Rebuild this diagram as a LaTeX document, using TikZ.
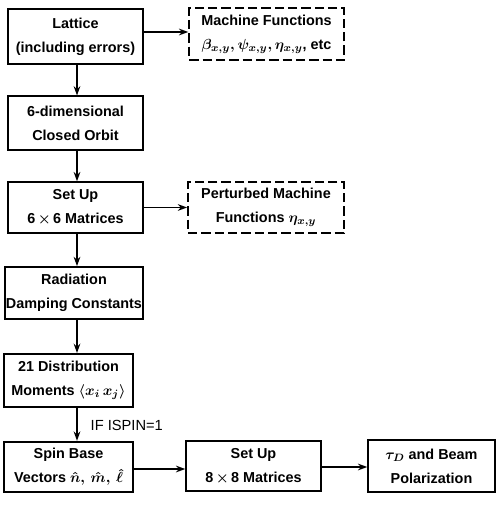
\documentclass[tikz,border=0pt]{standalone}
\usepackage{amsmath}
\usepackage{fontspec}
\setmainfont{Liberation Sans}
\usetikzlibrary{arrows.meta}

\begin{document}
\begin{tikzpicture}[x=0.75pt,y=-0.75pt,
  box/.style={draw,line width=1.3pt,align=center,inner sep=1pt,font=\bfseries\boldmath\fontsize{10.8}{18}\selectfont},
  dbox/.style={box,dash pattern=on 7pt off 3pt},
  link/.style={line width=1.1pt,-{Stealth[length=7pt,width=5pt]}}]
  \useasboundingbox (0,0) rectangle (500,510);
  % left column
  \node[box,minimum width=101pt,minimum height=41pt] (lat) at (75.5,36.5) {Lattice\\(including errors)};
  \node[box,minimum width=101pt,minimum height=40pt] (orb) at (75.5,123) {6-dimensional\\Closed Orbit};
  \node[box,minimum width=101pt,minimum height=38pt] (su6) at (75.5,207.5) {Set Up\\6\,$\times$\,6 Matrices};
  \node[box,minimum width=103pt,minimum height=39pt] (rad) at (74,293) {Radiation\\Damping Constants};
  \node[box,minimum width=97pt,minimum height=40pt] (dist) at (68.5,380.5) {21 Distribution\\Moments $\langle x_i\,x_j\rangle$};
  \node[box,minimum width=97pt,minimum height=38pt] (spin) at (68.5,467) {Spin Base\\Vectors $\hat n,\,\hat m,\,\hat\ell$};
  % right side
  \node[dbox,minimum width=116pt,minimum height=39pt] (mf) at (266.5,34) {Machine Functions\\$\beta_{x,y},\psi_{x,y},\eta_{x,y}$, etc};
  \node[dbox,minimum width=117pt,minimum height=38pt] (pmf) at (266,207.5) {Perturbed Machine\\Functions $\eta_{x,y}$};
  \node[box,minimum width=101pt,minimum height=38pt] (su8) at (253.5,466) {Set Up\\8\,$\times$\,8 Matrices};
  \node[box,minimum width=95pt,minimum height=39pt] (tau) at (431.5,466) {$\tau_D$ and Beam\\Polarization};
  \node[font=\fontsize{11}{12}\selectfont,anchor=west] (ifspin) at (86,425) {IF ISPIN=1};
  % arrows
  \coordinate (col) at (77,0);
  \foreach \a/\b in {lat/orb,orb/su6,su6/rad,rad/dist,dist/spin}{
    \draw[link] (\a.south -| col) -- (\b.north -| col);}
  \draw[link] (lat.east |- 0,32) -- (mf.west |- 0,32);
  \draw[link] (su6) -- (pmf);
  \draw[link] (spin.east |- 0,469) -- (su8.west |- 0,469);
  \draw[link] (su8.east |- 0,467) -- (tau.west |- 0,467);
\end{tikzpicture}
\end{document}
